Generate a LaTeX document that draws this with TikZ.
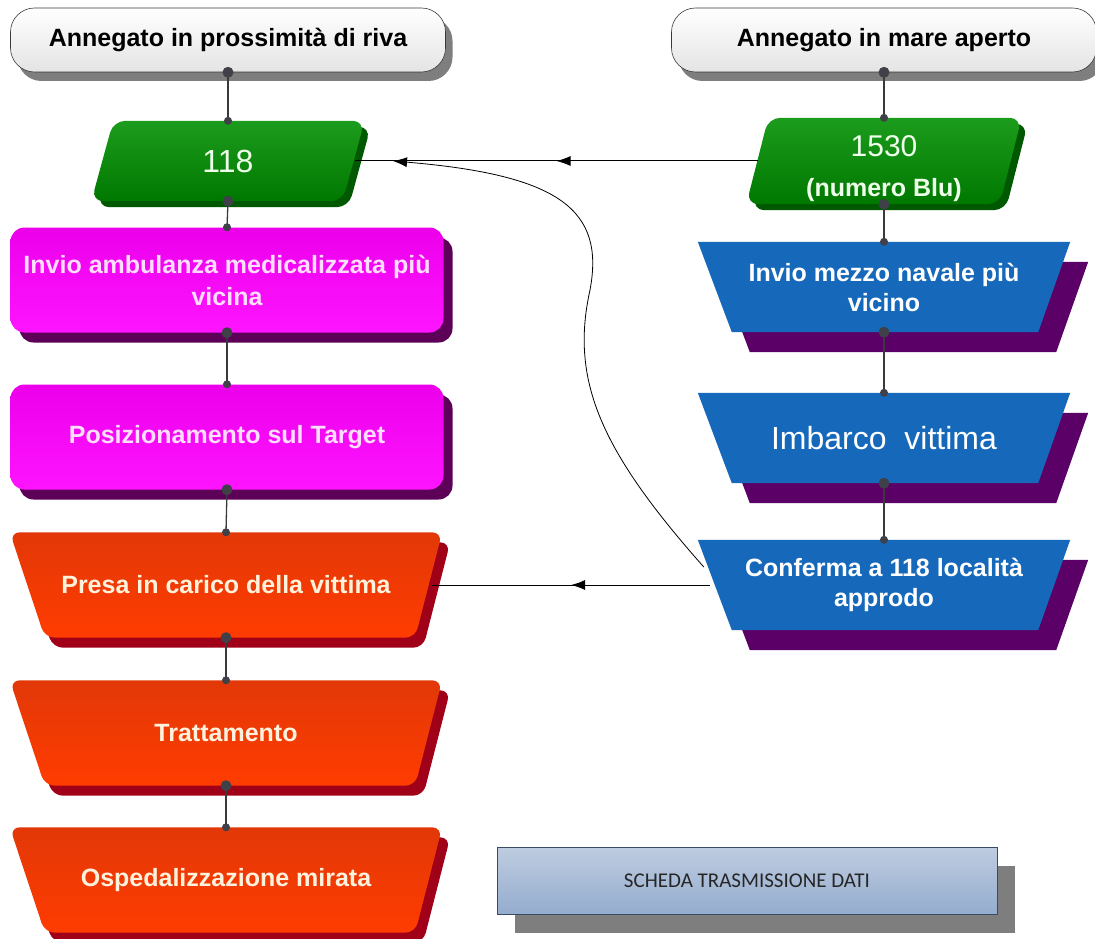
\documentclass[tikz,border=0pt]{standalone}
\usepackage{fontspec}
\setmainfont{Liberation Sans}
\newfontfamily\schedafont{Carlito}
\usetikzlibrary{shadows,arrows.meta,decorations.markings,backgrounds}

\definecolor{linegray}{HTML}{3A3A3A}
\definecolor{dotgray}{HTML}{404048}
\definecolor{startgray}{HTML}{E4E4E4}
\definecolor{shadowgray}{HTML}{7E7E7E}
\definecolor{greentop}{HTML}{1C9C1C}
\definecolor{greenbot}{HTML}{007800}
\definecolor{greenshadow}{HTML}{005800}
\definecolor{greentext}{HTML}{EEFFEA}
\definecolor{pinktop}{HTML}{EC00EC}
\definecolor{pinkbot}{HTML}{FF14FF}
\definecolor{pinkshadow}{HTML}{5C0058}
\definecolor{pinktext}{HTML}{FFDDFF}
\definecolor{redtop}{HTML}{E23808}
\definecolor{redbot}{HTML}{FF3C00}
\definecolor{redshadow}{HTML}{A00018}
\definecolor{redtext}{HTML}{FFF2DC}
\definecolor{bluefill}{HTML}{1669BA}
\definecolor{blueshadow}{HTML}{5A0066}
\definecolor{schedatop}{HTML}{BECCE0}
\definecolor{schedabot}{HTML}{94ACCE}
\definecolor{schedaline}{HTML}{3A4A62}

\tikzset{
  startbox/.style={draw=linegray, line width=0.6pt, rounded corners=24pt,
    top color=white, bottom color=startgray, minimum width=435pt, minimum height=64pt,
    drop shadow={shadow xshift=7pt, shadow yshift=-9pt, fill=shadowgray, opacity=1},
    font=\fontsize{25}{30}\selectfont\bfseries},
  boxtext/.style={rectangle, align=center, inner sep=0pt},
  greenshape/.style={rounded corners=12pt, top color=greentop, bottom color=greenbot,
    drop shadow={shadow xshift=6pt, shadow yshift=-6pt, fill=greenshadow, opacity=1}},
  pinkbox/.style={rectangle, rounded corners=14pt, minimum width=433pt, minimum height=105pt,
    top color=pinktop, bottom color=pinkbot, text=pinktext, align=center,
    drop shadow={shadow xshift=9pt, shadow yshift=-10pt, fill=pinkshadow, opacity=1},
    font=\fontsize{25}{32}\selectfont\bfseries},
  redbox/.style={boxtext, minimum width=432pt, minimum height=105pt, text=redtext,
    font=\fontsize{25}{31}\selectfont\bfseries},
  redshape/.style={rounded corners=10pt, top color=redtop, bottom color=redbot,
    drop shadow={shadow xshift=8pt, shadow yshift=-10pt, fill=redshadow, opacity=1}},
  bluebox/.style={boxtext, minimum width=372pt, minimum height=90pt, text=white,
    font=\fontsize{25}{30}\selectfont\bfseries},
  blueshape/.style={fill=bluefill,
    drop shadow={shadow xshift=18pt, shadow yshift=-20pt, fill=blueshadow, opacity=1}},
  schedabox/.style={rectangle, draw=schedaline, line width=0.6pt, minimum width=500pt, minimum height=67pt,
    top color=schedatop, bottom color=schedabot, text=black!85,
    drop shadow={shadow xshift=18pt, shadow yshift=-18pt, fill=shadowgray, opacity=1},
    font=\schedafont\fontsize{21}{24}\selectfont},
  link/.style={draw=linegray, line width=1.3pt},
  arrowline/.style={draw=black, line width=1pt},
  midarrow/.style={postaction={decorate}, decoration={markings,
    mark=at position 0.5 with {\arrow{Latex[length=14pt,width=10pt]}}}}
}

\begin{document}
\begin{tikzpicture}[x=1pt,y=-1pt]
\useasboundingbox (0,0) rectangle (1095,939);

% shore column
\node[startbox] (riva) at (228,40) {Annegato in prossimità di riva};
\node[boxtext, minimum width=273pt, minimum height=80pt, text=greentext,
  font=\fontsize{32}{36}\selectfont] (n118) at (228,161) {118};
\node[pinkbox] (ambulanza) at (227,280) {Invio ambulanza medicalizzata più\\vicina};
\node[pinkbox] (target) at (227,437) {Posizionamento sul Target};
\node[redbox] (presa) at (226,585) {Presa in carico della vittima};
\node[redbox] (trattamento) at (226,733) {Trattamento};
\node[redbox] (ospedale) at (226,880) {Ospedalizzazione mirata};

% open sea column
\node[startbox, minimum width=425pt] (mare) at (884,40) {Annegato in mare aperto};
\node[boxtext, minimum width=275pt, minimum height=86pt, text=greentext,
  font=\fontsize{30}{40}\selectfont] (n1530) at (884,161)
  {\rule{0pt}{36pt}1530\\\bfseries\fontsize{25}{40}\selectfont (numero Blu)};
\node[bluebox] (navale) at (884,287) {Invio mezzo navale più\\vicino};
\node[bluebox, font=\fontsize{32}{36}\selectfont] (imbarco) at (884,438) {Imbarco\ \ vittima};
\node[bluebox] (conferma) at (884,585) {Conferma a 118 località\\approdo};

\node[schedabox] (scheda) at (747,881) {SCHEDA TRASMISSIONE DATI};

\begin{scope}[on background layer]
\foreach \n in {n118,n1530}
  \path[greenshape] ([xshift=22pt]\n.north west) -- (\n.north east)
    -- ([xshift=-22pt]\n.south east) -- (\n.south west) -- cycle;
\foreach \n in {presa,trattamento,ospedale}
  \path[redshape] (\n.north west) -- (\n.north east)
    -- ([xshift=-27pt]\n.south east) -- ([xshift=35pt]\n.south west) -- cycle;
\foreach \n in {navale,imbarco,conferma}
  \path[blueshape] (\n.north west) -- (\n.north east)
    -- ([xshift=-32pt]\n.south east) -- ([xshift=34pt]\n.south west) -- cycle;
\end{scope}

\foreach \a/\b in {riva/n118, n118/ambulanza, ambulanza/target, target/presa,
                   presa/trattamento, trattamento/ospedale,
                   mare/n1530, n1530/navale, navale/imbarco, imbarco/conferma} {
  \draw[link] (\a.south) -- (\b.north);
  \fill[dotgray] (\a.south) circle (5.5pt) (\b.north) circle (4pt);
}

\draw[arrowline, midarrow] ([xshift=12pt]n1530.west) -- ([xshift=-10pt]n118.east);
\draw[arrowline, midarrow] ([xshift=12pt]conferma.west) -- ([xshift=-10pt]presa.east);
\coordinate (tip118) at (393,161);
\draw[arrowline, line width=0.8pt, -{Latex[length=14pt,width=10pt]}] ([xshift=6pt,yshift=18pt]conferma.west)
  .. controls (600,450) and (570,380) .. (590,290)
  .. controls (605,210) and (560,175) .. (tip118);
\end{tikzpicture}
\end{document}
